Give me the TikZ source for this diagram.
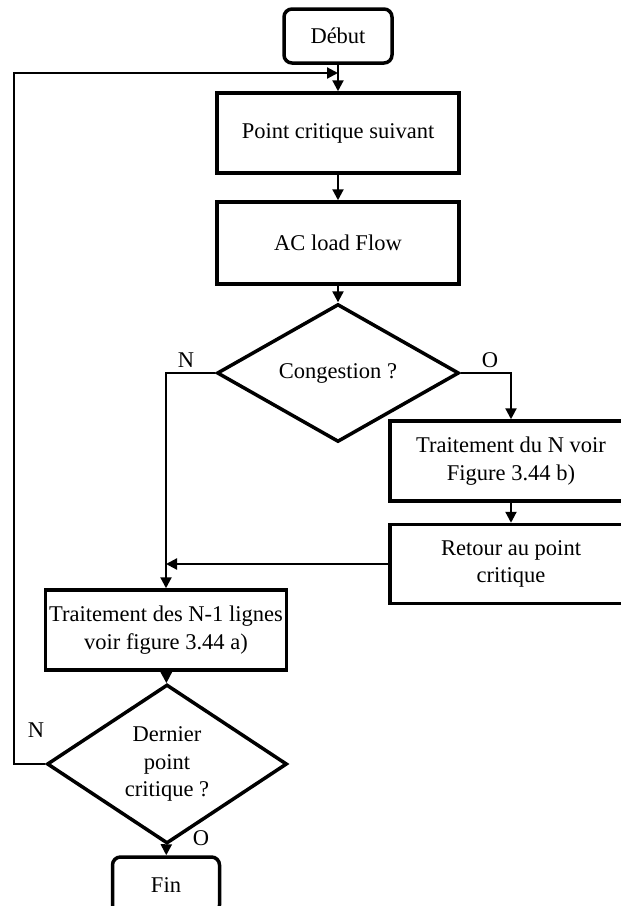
\documentclass[tikz,border=0pt]{standalone}
\usepackage{fontspec}
\setmainfont{Liberation Serif}
\usetikzlibrary{shapes.geometric,arrows.meta}
\begin{document}
\begin{tikzpicture}[x=1pt,y=-1pt,
  every node/.style={font=\fontsize{22.5}{27.5}\selectfont, inner sep=0pt, align=center},
  procbox/.style={draw, line width=3.5pt, rectangle, minimum width=242pt, minimum height=80pt},
  termbox/.style={draw, line width=3.5pt, rectangle, rounded corners=8pt, minimum width=108pt, minimum height=54pt},
  decbox/.style={draw, line width=3.5pt, diamond, minimum width=242pt, minimum height=135pt},
  arr/.style={-{Triangle[length=11pt,width=11pt]}, line width=2.2pt},
  lbl/.style={font=\fontsize{22.5}{27.5}\selectfont}
]
\useasboundingbox (0,0) rectangle (621,906);
\node[termbox] (deb) at (338,36) {Début};
\node[procbox] (box1) at (338,133) {Point critique suivant};
\node[procbox, minimum height=82pt] (box2) at (338,243) {AC load Flow};
\node[decbox] (d1) at (338,373) {\raisebox{-3pt}{Congestion ?}};
\node[procbox] (tn) at (511,461) {Traitement du N voir\\Figure 3.44 b)};
\node[procbox, minimum height=79pt] (rp) at (511,564) {Retour au point\\critique};
\node[procbox, minimum width=241pt] (box3) at (166,630) {Traitement des N-1 lignes\\voir figure 3.44 a)};
\node[decbox, minimum width=240pt, minimum height=136pt] (d2) at (167,764) {Dernier\\point\\critique ?};
\node[termbox, minimum width=107pt, minimum height=56pt] (fin) at (166,885) {Fin};

\node[lbl] (n1) at (186,360) {N};
\node[lbl] (o1) at (490,360) {O};
\node[lbl] (n2) at (36,730) {N};
\node[lbl] (o2) at (201,838) {O};

\coordinate (loopL) at (14,73);
\coordinate (join) at (338,73);

\draw[arr] (deb) -- (box1);
\draw[arr] (box1) -- (box2);
\draw[arr] (box2) -- (d1);
\draw[arr] (d1.west) -| (box3.north);
\draw[arr] (d1.east) -| (tn.north);
\draw[arr] (tn) -- (rp);
\draw[arr] (rp.west) -- (rp.west -| box3.north);
\draw[arr] (box3) -- (d2);
\draw[arr] (d2) -- (fin);
\draw[arr] (d2.west) -- (d2.west -| loopL) -- (loopL) -- (join);
\end{tikzpicture}
\end{document}
